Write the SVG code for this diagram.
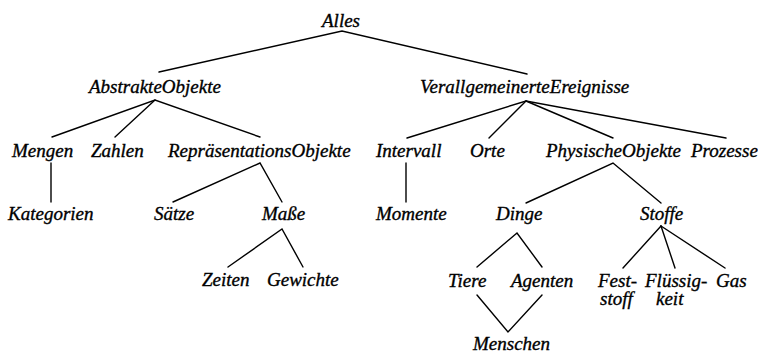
<svg xmlns="http://www.w3.org/2000/svg" width="758" height="353" viewBox="0 0 758 353">
  <style>
    text { font-family: "Liberation Serif", "Times New Roman", serif; font-style: italic; font-size: 19px; fill: #000; stroke: #000; stroke-width: 0.35; }
    .edge { stroke: #000; stroke-width: 1.4; fill: none; stroke-linecap: round; }
  </style>
  <rect width="758" height="353" fill="#fff"/>

  <!-- connectors -->
  <g id="connectors" class="edge">
    <polyline points="159,72 342,31 527,74"/>
    <polyline points="52,137 155,100 260,137"/>
    <line x1="155" y1="100" x2="115" y2="137"/>
    <line x1="51" y1="163" x2="51" y2="202"/>
    <polyline points="173,202 260,163 282,202"/>
    <polyline points="228,267 282,229 303,267"/>
    <polyline points="407,138 526,101 726,138"/>
    <line x1="526" y1="101" x2="489" y2="138"/>
    <line x1="526" y1="101" x2="613" y2="138"/>
    <line x1="406" y1="163" x2="406" y2="202"/>
    <polyline points="526,203 613,163 661,203"/>
    <polyline points="477,267 517,233 542,267"/>
    <polyline points="477,295 508,332 542,295"/>
    <line x1="661" y1="226" x2="623" y2="268"/>
    <line x1="661" y1="226" x2="675" y2="268"/>
    <line x1="661" y1="226" x2="725" y2="268"/>
  </g>

  <!-- nodes -->
  <g id="alles"><text x="322" y="27">Alles</text></g>
  <g id="abstrakte-objekte"><text x="89" y="93">AbstrakteObjekte</text></g>
  <g id="verallgemeinerte-ereignisse"><text x="420" y="93">VerallgemeinerteEreignisse</text></g>
  <g id="mengen"><text x="12" y="157">Mengen</text></g>
  <g id="zahlen"><text x="91" y="157">Zahlen</text></g>
  <g id="repraesentations-objekte"><text x="168" y="157">RepräsentationsObjekte</text></g>
  <g id="intervall"><text x="376" y="157">Intervall</text></g>
  <g id="orte"><text x="470" y="157">Orte</text></g>
  <g id="physische-objekte"><text x="546" y="157">PhysischeObjekte</text></g>
  <g id="prozesse"><text x="691" y="157">Prozesse</text></g>
  <g id="kategorien"><text x="8" y="220">Kategorien</text></g>
  <g id="saetze"><text x="154" y="220">Sätze</text></g>
  <g id="masse"><text x="262" y="220">Maße</text></g>
  <g id="momente"><text x="376" y="220">Momente</text></g>
  <g id="dinge"><text x="496" y="220">Dinge</text></g>
  <g id="stoffe"><text x="640" y="220">Stoffe</text></g>
  <g id="zeiten"><text x="202" y="286">Zeiten</text></g>
  <g id="gewichte"><text x="267" y="286">Gewichte</text></g>
  <g id="tiere"><text x="448" y="287">Tiere</text></g>
  <g id="agenten"><text x="511" y="287">Agenten</text></g>
  <g id="feststoff"><text x="598" y="287">Fest-<tspan x="600" y="305">stoff</tspan></text></g>
  <g id="fluessigkeit"><text x="645" y="287">Flüssig-<tspan x="656" y="305">keit</tspan></text></g>
  <g id="gas"><text x="716" y="287">Gas</text></g>
  <g id="menschen"><text x="473" y="350">Menschen</text></g>
</svg>
